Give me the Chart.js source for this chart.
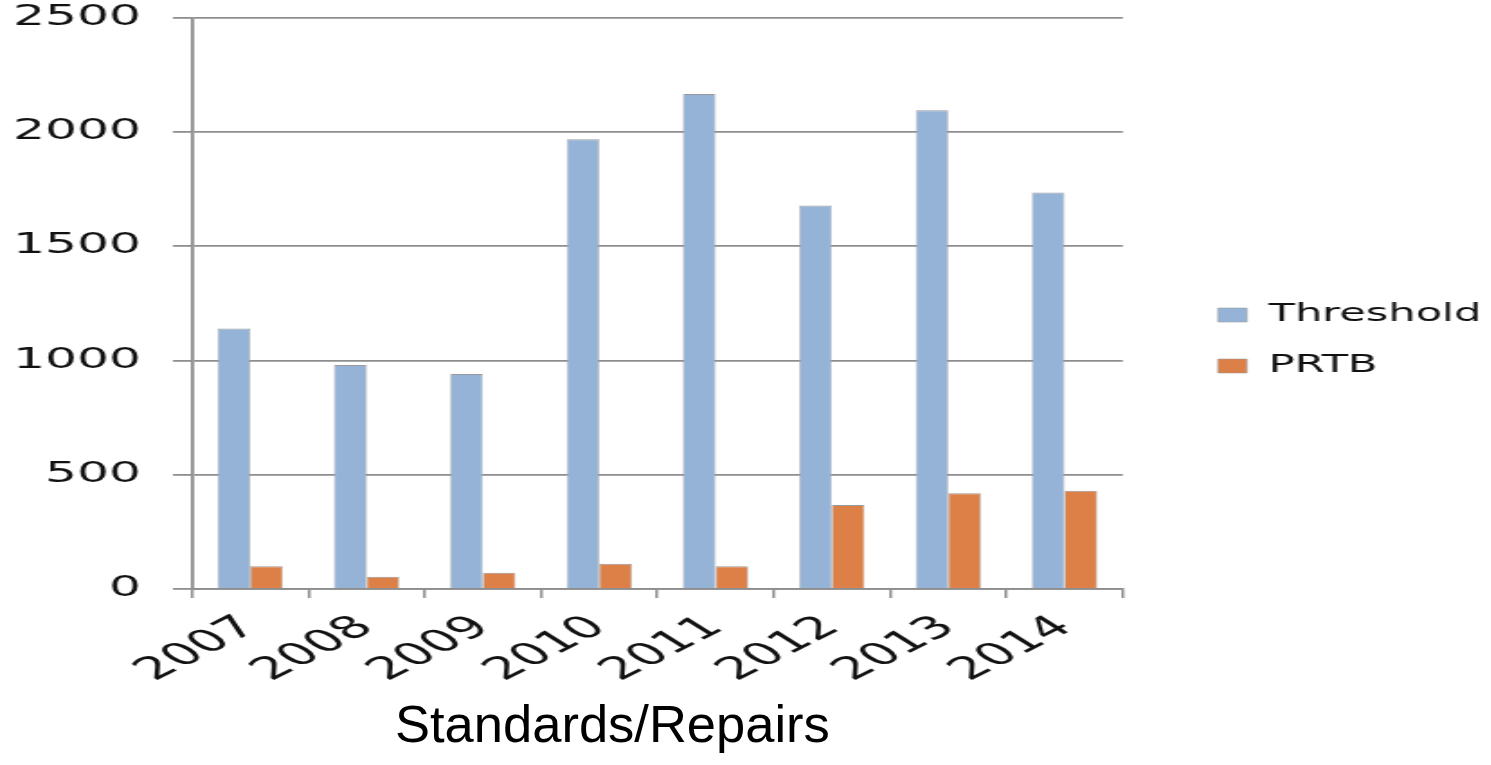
<!DOCTYPE html>
<html>
<head>
<meta charset="utf-8">
<title>Standards/Repairs</title>
<script src="https://cdn.jsdelivr.net/npm/chart.js@4/dist/chart.umd.min.js"></script>
<style>
  html, body { margin: 0; padding: 0; background: #ffffff; overflow: hidden; width: 1491px; height: 765px; }
  /* the chart is laid out narrow, then widened to the page's wide aspect */
  #wrap { position: absolute; left: 0; top: 0; width: 833px; height: 710px;
          transform: scaleX(1.8); transform-origin: 0 0; }
  #title { position: absolute; left: 395px; top: 698px; margin: 0;
           font-family: "Liberation Sans", Arial, sans-serif; font-size: 52.5px;
           line-height: 1; font-weight: normal; color: #000; white-space: nowrap; }
</style>
</head>
<body>
<div id="wrap"><canvas id="chart" width="833" height="710"></canvas></div>
<div id="title">Standards/Repairs</div>
<script>
// Categories and series
const years = ['2007', '2008', '2009', '2010', '2011', '2012', '2013', '2014'];
const thresholdValues = [1139, 980, 940, 1967, 2165, 1678, 2094, 1735];
const prtbValues = [99, 54, 71, 111, 99, 367, 419, 430];
const yTickValues = [0, 500, 1000, 1500, 2000, 2500];
const seriesNames = ['Threshold', 'PRTB'];

const axisGray = '#8e8e8e';
const textColor = '#111111';
Chart.defaults.font.family = '"DejaVu Sans", sans-serif';

// keep the legend centred on the upper band of the canvas, not on the full height
const legendBand = {
  id: 'legendBand',
  afterLayout(chart) {
    const lg = chart.legend;
    if (!lg) return;
    lg.top = 17.5;
    lg.bottom = 663.5;
    lg.height = lg.bottom - lg.top;
  }
};

new Chart(document.getElementById('chart'), {
  type: 'bar',
  data: {
    labels: years,
    datasets: [
      {
        label: seriesNames[0],
        data: thresholdValues,
        backgroundColor: '#95b3d7',
        borderColor: '#9a9a9a',
        borderWidth: { top: 1, left: 0.6, right: 0.6, bottom: 0 },
        categoryPercentage: 0.56,
        barPercentage: 1.0
      },
      {
        label: seriesNames[1],
        data: prtbValues,
        backgroundColor: '#dc8048',
        borderColor: '#9a9a9a',
        borderWidth: { top: 1, left: 0.6, right: 0.6, bottom: 0 },
        categoryPercentage: 0.56,
        barPercentage: 1.0
      }
    ]
  },
  plugins: [legendBand],
  options: {
    responsive: false,
    animation: false,
    devicePixelRatio: 1,
    layout: { padding: { top: 17.5, bottom: 10, left: 0, right: 0 } },
    plugins: {
      title: { display: false },
      tooltip: { enabled: false },
      legend: {
        position: 'right',
        align: 'center',
        maxWidth: 400,
        labels: {
          boxWidth: 16,
          boxHeight: 14,
          padding: 27,
          color: textColor,
          font: { size: 24 }
        }
      }
    },
    scales: {
      x: {
        offset: true,
        grid: { display: true, drawOnChartArea: false, drawTicks: true, tickLength: 9,
                color: axisGray, lineWidth: 1.5, offset: true },
        border: { display: true, color: axisGray, width: 1.8 },
        ticks: { minRotation: 42, maxRotation: 42, autoSkip: false, padding: 11,
                 color: textColor, font: { size: 31 } },
        afterFit: (scale) => { scale.height = 111; }
      },
      y: {
        min: 0,
        max: 2500,
        afterBuildTicks: (scale) => { scale.ticks = yTickValues.map(v => ({ value: v })); },
        grid: { color: axisGray, lineWidth: 1.8, drawTicks: true, tickLength: 10.6 },
        border: { display: true, color: axisGray, width: 1.8 },
        ticks: { padding: 17.7, color: textColor, font: { size: 28 },
                 callback: (v) => String(v) },
        afterFit: (scale) => {
          scale.width = 106.7;
          // the plot edges follow the layout padding, not the label overhang
          scale.paddingTop = 0;
          scale.paddingBottom = 0;
        }
      },
      gap: {
        position: 'right',
        display: true,
        grid: { display: false },
        border: { display: false },
        ticks: { display: false },
        afterFit: (scale) => { scale.width = 26; }
      }
    }
  }
});
</script>
</body>
</html>
